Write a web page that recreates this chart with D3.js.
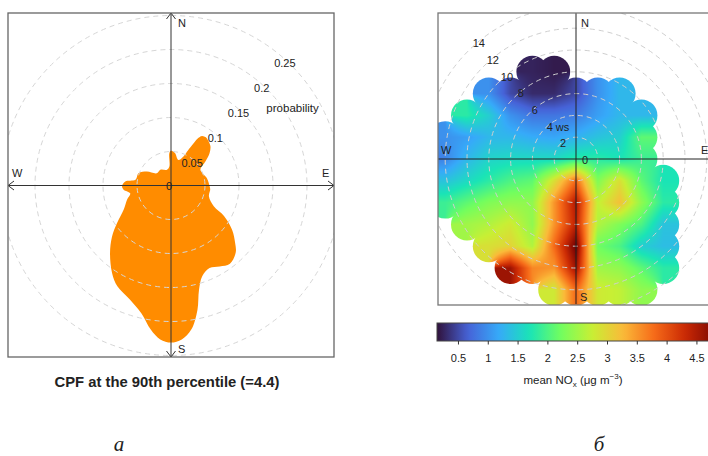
<!DOCTYPE html>
<html>
<head>
<meta charset="utf-8">
<script src="https://cdn.jsdelivr.net/npm/d3@7"></script>
<style>
  body { margin: 0; background: #fff; }
  text { font-family: "Liberation Sans", Arial, sans-serif; fill: #222; }
</style>
</head>
<body>
<svg id="chart" width="708" height="456"></svg>
<script>
// CPF polar plot (left): wind direction (deg) -> probability
const cpfDir = [0, 7, 16, 23, 26, 30, 32, 36, 39, 45, 50, 55, 62, 70, 79, 92, 96, 106, 116, 120,
  126, 132, 136, 143, 149, 155, 161, 165, 168, 172, 176, 180, 184, 188, 193, 200, 208, 214, 222, 229,
  235, 243, 252, 259, 265, 269, 275, 279, 291, 300, 311, 326, 346, 355, 357];
const cpfProb = [0.051, 0.048, 0.039, 0.046, 0.058, 0.081, 0.086, 0.0875, 0.086, 0.082, 0.074, 0.062, 0.049, 0.050, 0.054, 0.057, 0.058, 0.058, 0.070, 0.090,
  0.111, 0.127, 0.137, 0.144, 0.139, 0.134, 0.141, 0.159, 0.187, 0.214, 0.227, 0.231, 0.227, 0.214, 0.193, 0.178, 0.168, 0.155, 0.134, 0.115,
  0.097, 0.078, 0.068, 0.061, 0.070, 0.072, 0.0675, 0.053, 0.051, 0.041, 0.0275, 0.028, 0.024, 0.028, 0.0475];
const probRings = [0.05, 0.1, 0.15, 0.2, 0.25];

// polar heat map (right): mean NOx on a u/v wind speed grid
const gridU = [-14, -12, -10, -8, -6, -4, -2, 0, 2, 4, 6, 8, 10, 12, 14];
const gridV = [14, 12, 10, 8, 6, 4, 2, 0, -2, -4, -6, -8, -10, -12, -14];
const _ = null;
const noxGrid = [
  [_, _, _, _, _, _, _, _, _, _, _, _, _, _, _],
  [_, _, _, _, _, _, _, _, _, _, _, _, _, _, _],
  [_, _, _, _, _, _, _, _, _, _, _, _, _, _, _],
  [_, _, _, _, _, 0.25, 0.2, _, _, _, _, _, _, _, _],
  [_, _, _, 1.0, 0.5, 0.3, 0.3, 0.5, 1.0, 1.3, _, _, _, _, _],
  [_, _, 1.8, 1.5, 1.0, 0.8, 0.8, 0.85, 1.1, 1.3, 1.3, _, _, _, _],
  [1.0, 1.0, 1.1, 1.3, 1.3, 1.2, 1.15, 1.25, 1.4, 1.5, 2.1, _, _, _, _],
  [0.8, 0.9, 1.3, 1.55, 1.6, 1.6, 1.6, 1.8, 1.8, 1.7, 1.9, _, _, _, _],
  [1.4, 1.4, 1.6, 1.8, 2.0, 2.1, 2.9, 3.8, 2.3, 2.9, 2.1, 1.7, _, _, _],
  [1.9, 1.9, 2.1, 2.3, 2.4, 2.4, 3.5, 4.5, 2.7, 3.2, 2.4, 1.8, _, _, _],
  [_, _, 2.5, 2.6, 2.8, 2.4, 3.5, 4.4, 2.6, 2.3, 2.0, 1.4, _, _, _],
  [_, _, _, 2.9, 3.0, 2.6, 3.8, 4.9, 2.2, 2.0, 1.5, 1.35, _, _, _],
  [_, _, _, _, 4.6, 3.6, 3.5, 4.6, 2.5, 2.4, 2.1, 1.8, _, _, _],
  [_, _, _, _, _, _, 2.8, 3.8, 2.8, 2.7, 2.4, _, _, _, _],
  [_, _, _, _, _, _, _, _, _, _, _, _, _, _, _]
];
const wsRings = [2, 4, 6, 8, 10, 12, 14];
const noxTicks = [0.5, 1, 1.5, 2, 2.5, 3, 3.5, 4, 4.5];
const turboColors = ['#30123b', '#4662d7', '#36aaf9', '#1ae4b6', '#72fe5e', '#c8ef34', '#faba39', '#f66b19', '#cb2a04', '#7a0403'];

const svg = d3.select('#chart');
const defs = svg.append('defs');
const rad = a => a * Math.PI / 180;

// ---------- left panel ----------
const L = {x0: 8, y0: 13, x1: 334, y1: 357, cx: 171, cy: 185.5};
const rProb = d3.scaleLinear().domain([0, 0.25]).range([0, 170]);

defs.append('clipPath').attr('id', 'clip-left')
  .append('rect')
  .attr('x', L.x0).attr('y', L.y0)
  .attr('width', L.x1 - L.x0).attr('height', L.y1 - L.y0);

const left = svg.append('g').attr('class', 'cpf');

left.append('path')
  .datum(d3.zip(cpfDir, cpfProb))
  .attr('transform', `translate(${L.cx},${L.cy})`)
  .attr('d', d3.lineRadial()
    .angle(d => rad(d[0]))
    .radius(d => rProb(d[1]))
    .curve(d3.curveCatmullRomClosed.alpha(0.5)))
  .attr('fill', '#ff8c00');

left.append('g')
  .attr('clip-path', 'url(#clip-left)')
  .selectAll('circle')
  .data(probRings)
  .enter()
  .append('circle')
  .attr('cx', L.cx).attr('cy', L.cy)
  .attr('r', d => rProb(d))
  .attr('fill', 'none')
  .attr('stroke', '#d6d6d6')
  .attr('stroke-width', 1)
  .attr('stroke-dasharray', '5,4');

// axes with open arrow heads
left.append('line').attr('x1', L.x0).attr('x2', L.x1).attr('y1', L.cy).attr('y2', L.cy)
  .attr('stroke', '#333').attr('stroke-width', 1);
left.append('line').attr('x1', L.cx).attr('x2', L.cx).attr('y1', L.y0).attr('y2', L.y1)
  .attr('stroke', '#333').attr('stroke-width', 1);
const arrows = [
  `M${L.x1 - 6},${L.cy - 4.5}L${L.x1},${L.cy}L${L.x1 - 6},${L.cy + 4.5}`,
  `M${L.x0 + 6},${L.cy - 4.5}L${L.x0},${L.cy}L${L.x0 + 6},${L.cy + 4.5}`,
  `M${L.cx - 4.5},${L.y0 + 6}L${L.cx},${L.y0}L${L.cx + 4.5},${L.y0 + 6}`,
  `M${L.cx - 4.5},${L.y1 - 6}L${L.cx},${L.y1}L${L.cx + 4.5},${L.y1 - 6}`
];
left.append('g').selectAll('path').data(arrows).enter().append('path')
  .attr('d', d => d).attr('fill', 'none').attr('stroke', '#333').attr('stroke-width', 1);

left.append('text').attr('x', L.cx + 7).attr('y', L.y0 + 14).attr('font-size', 11).text('N');
left.append('text').attr('x', L.cx + 7).attr('y', L.y1 - 4).attr('font-size', 11).text('S');
left.append('text').attr('x', L.x0 + 4).attr('y', L.cy - 9).attr('font-size', 11).text('W');
left.append('text').attr('x', L.x1 - 12).attr('y', L.cy - 9).attr('font-size', 11).text('E');

left.append('g').selectAll('text')
  .data(probRings)
  .enter()
  .append('text')
  .attr('x', d => L.cx + (rProb(d) - 3) * Math.sin(rad(43)))
  .attr('y', d => L.cy - (rProb(d) - 3) * Math.cos(rad(43)))
  .attr('dy', '0.35em')
  .attr('text-anchor', 'middle')
  .attr('font-size', 11)
  .text(d => d);
left.append('text').attr('x', L.cx - 2).attr('y', L.cy + 1).attr('dy', '0.35em')
  .attr('text-anchor', 'middle').attr('font-size', 11).text('0');
left.append('text')
  .attr('x', L.cx + rProb(0.212) * Math.sin(rad(57.5)))
  .attr('y', L.cy - rProb(0.212) * Math.cos(rad(57.5)))
  .attr('dy', '0.35em').attr('text-anchor', 'middle').attr('font-size', 11.5)
  .text('probability');

left.append('rect')
  .attr('x', L.x0).attr('y', L.y0)
  .attr('width', L.x1 - L.x0).attr('height', L.y1 - L.y0)
  .attr('fill', 'none').attr('stroke', '#666').attr('stroke-width', 1.3);

svg.append('text')
  .attr('x', 167).attr('y', 387)
  .attr('text-anchor', 'middle')
  .attr('font-size', 14.8).attr('font-weight', 'bold')
  .text('CPF at the 90th percentile (=4.4)');

// ---------- right panel ----------
const R = {x0: 438, y0: 13, x1: 716, y1: 305, cx: 576, cy: 159};
const rWs = d3.scaleLinear().domain([0, 14]).range([0, 152.6]);
const xWs = d3.scaleLinear().domain([-14, 14]).range([R.cx - rWs(14), R.cx + rWs(14)]);
const yWs = d3.scaleLinear().domain([-14, 14]).range([R.cy + rWs(14), R.cy - rWs(14)]);
const noxColor = d3.scaleSequential(d3.piecewise(d3.interpolateRgb, turboColors))
  .domain([0.14, 4.82]).clamp(true);

defs.append('clipPath').attr('id', 'clip-right')
  .append('rect')
  .attr('x', R.x0).attr('y', R.y0)
  .attr('width', R.x1 - R.x0).attr('height', R.y1 - R.y0);

const cells = [];
noxGrid.forEach((row, j) => row.forEach((v, i) => {
  if (v !== null) cells.push({u: gridU[i], v: gridV[j], value: v});
}));
defs.append('clipPath').attr('id', 'clip-cover')
  .selectAll('circle')
  .data(cells)
  .enter()
  .append('circle')
  .attr('cx', d => xWs(d.u))
  .attr('cy', d => yWs(d.v))
  .attr('r', 16);

// surface: bilinear between grid nodes, skipping empty nodes
const W = R.x1 - R.x0, H = R.y1 - R.y0;
const canvas = document.createElement('canvas');
canvas.width = W; canvas.height = H;
const ctx = canvas.getContext('2d');
const img = ctx.createImageData(W, H);
const nodeAt = (i, j) => (i >= 0 && j >= 0 && i < gridU.length && j < gridV.length) ? noxGrid[j][i] : null;
for (let py = 0; py < H; py++) {
  for (let px = 0; px < W; px++) {
    const u = xWs.invert(R.x0 + px + 0.5);
    const v = yWs.invert(R.y0 + py + 0.5);
    const fi = (u - gridU[0]) / (gridU[1] - gridU[0]);
    const fj = (v - gridV[0]) / (gridV[1] - gridV[0]);
    const i0 = Math.floor(fi), j0 = Math.floor(fj);
    const tx = fi - i0, ty = fj - j0;
    let sum = 0, wsum = 0;
    [[0, 0, (1 - tx) * (1 - ty)], [1, 0, tx * (1 - ty)], [0, 1, (1 - tx) * ty], [1, 1, tx * ty]].forEach(([di, dj, w]) => {
      const val = nodeAt(i0 + di, j0 + dj);
      if (val !== null && w > 0) { sum += val * w; wsum += w; }
    });
    if (wsum > 0) {
      const c = d3.rgb(noxColor(sum / wsum));
      const k = (py * W + px) * 4;
      img.data[k] = c.r; img.data[k + 1] = c.g; img.data[k + 2] = c.b; img.data[k + 3] = 255;
    }
  }
}
ctx.putImageData(img, 0, 0);

const right = svg.append('g').attr('class', 'polar-map');
right.append('g')
  .attr('clip-path', 'url(#clip-right)')
  .append('image')
  .attr('x', R.x0).attr('y', R.y0)
  .attr('width', W).attr('height', H)
  .attr('href', canvas.toDataURL())
  .attr('clip-path', 'url(#clip-cover)');

right.append('g')
  .attr('clip-path', 'url(#clip-right)')
  .selectAll('circle')
  .data(wsRings)
  .enter()
  .append('circle')
  .attr('cx', R.cx).attr('cy', R.cy)
  .attr('r', d => rWs(d))
  .attr('fill', 'none')
  .attr('stroke', '#cfcfcf')
  .attr('stroke-width', 1)
  .attr('stroke-dasharray', '5,4');

right.append('line').attr('x1', R.x0).attr('x2', R.x1).attr('y1', R.cy).attr('y2', R.cy)
  .attr('stroke', '#222').attr('stroke-width', 1);
right.append('line').attr('x1', R.cx).attr('x2', R.cx).attr('y1', R.y0).attr('y2', R.y1 - 1)
  .attr('stroke', '#222').attr('stroke-width', 1);

right.append('text').attr('x', R.cx + 5).attr('y', R.y0 + 14).attr('font-size', 11).text('N');
right.append('text').attr('x', R.cx + 4).attr('y', R.y1 - 4).attr('font-size', 11).text('S');
right.append('text').attr('x', R.x0 + 3).attr('y', R.cy - 5).attr('font-size', 11).text('W');
right.append('text').attr('x', R.x1 - 15).attr('y', R.cy - 5).attr('font-size', 11).text('E');
right.append('text').attr('x', R.cx + 9).attr('y', R.cy + 1).attr('dy', '0.35em')
  .attr('text-anchor', 'middle').attr('font-size', 11).text('0');

right.append('g').selectAll('text')
  .data(wsRings)
  .enter()
  .append('text')
  .attr('x', d => R.cx - (rWs(d) - 1.5) * Math.sin(rad(40)) + (d === 4 ? 9 : 0))
  .attr('y', d => R.cy - (rWs(d) - 1.5) * Math.cos(rad(40)))
  .attr('dy', '0.35em')
  .attr('text-anchor', 'middle')
  .attr('font-size', 11)
  .text(d => d === 4 ? '4 ws' : d);

right.append('rect')
  .attr('x', R.x0).attr('y', R.y0)
  .attr('width', R.x1 - R.x0).attr('height', R.y1 - R.y0)
  .attr('fill', 'none').attr('stroke', '#777').attr('stroke-width', 1.3);

// ---------- colour key ----------
const xKey = d3.scaleLinear().domain(noxColor.domain()).range([R.x0 - 1, R.x1]);
const grad = defs.append('linearGradient').attr('id', 'nox-grad');
d3.range(0, 1.0001, 0.02).forEach(t => {
  const v = noxColor.domain()[0] + t * (noxColor.domain()[1] - noxColor.domain()[0]);
  grad.append('stop').attr('offset', t).attr('stop-color', noxColor(v));
});
const key = svg.append('g').attr('class', 'key');
key.append('rect')
  .attr('x', xKey.range()[0]).attr('y', 323)
  .attr('width', xKey.range()[1] - xKey.range()[0]).attr('height', 18)
  .attr('fill', 'url(#nox-grad)')
  .attr('stroke', '#444').attr('stroke-width', 1);
key.selectAll('line.tick')
  .data(noxTicks)
  .enter()
  .append('line')
  .attr('class', 'tick')
  .attr('x1', d => xKey(d)).attr('x2', d => xKey(d))
  .attr('y1', 341).attr('y2', 344.5)
  .attr('stroke', '#333');
key.selectAll('text.tick')
  .data(noxTicks)
  .enter()
  .append('text')
  .attr('class', 'tick')
  .attr('x', d => xKey(d)).attr('y', 362)
  .attr('text-anchor', 'middle')
  .attr('font-size', 11)
  .attr('fill', '#333')
  .text(d => d);
const keyTitle = key.append('text')
  .attr('x', 573).attr('y', 384)
  .attr('text-anchor', 'middle')
  .attr('font-size', 11.5)
  .attr('fill', '#333');
keyTitle.append('tspan').text('mean NO');
keyTitle.append('tspan').attr('font-size', 8).attr('dy', 3).text('x');
keyTitle.append('tspan').attr('dy', -3).text(' (\u03bcg m');
keyTitle.append('tspan').attr('font-size', 8).attr('dy', -5).text('\u22123');
keyTitle.append('tspan').attr('dy', 5).text(')');

// panel letters
svg.append('text').attr('x', 119).attr('y', 451).attr('text-anchor', 'middle')
  .style('font-family', '"Liberation Serif", "Times New Roman", serif')
  .attr('font-style', 'italic').attr('font-size', 21).text('а');
svg.append('text').attr('x', 599).attr('y', 451).attr('text-anchor', 'middle')
  .style('font-family', '"Liberation Serif", "Times New Roman", serif')
  .attr('font-style', 'italic').attr('font-size', 21).text('б');
</script>
</body>
</html>
